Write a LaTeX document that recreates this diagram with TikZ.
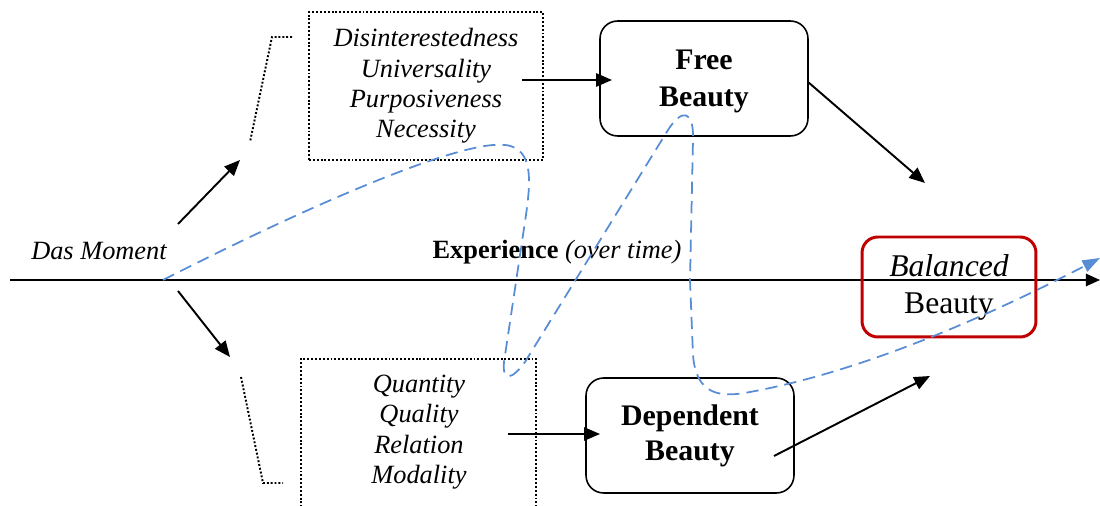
\documentclass[tikz,border=0pt]{standalone}
\usepackage{fontspec}
\setmainfont{Liberation Serif}
\usepackage{tikz}
\usetikzlibrary{arrows.meta,positioning,calc}

\definecolor{pathblue}{RGB}{88,141,214}
\definecolor{darkred}{RGB}{192,0,0}

\tikzset{
  dotbox/.style={draw, line width=1.1pt, dash pattern=on 1.1pt off 1.1pt},
  beautybox/.style={draw, line width=0.9pt, rounded corners=10pt, align=center,
    minimum width=4.16cm, minimum height=2.3cm,
    font=\fontsize{17}{21}\selectfont\bfseries},
  listtext/.style={align=center, font=\fontsize{15}{17.3}\selectfont\itshape},
  step arrow/.style={-{Triangle[length=9pt,width=7.5pt]}, line width=1.1pt},
}

\begin{document}
\begin{tikzpicture}[x=0.02cm, y=-0.02cm]
  \useasboundingbox (0,0) rectangle (1100,506);

  % time axis
  \coordinate (axisL) at (10,280);
  \coordinate (axisR) at (1100,280);
  \coordinate (moment) at (163,280);
  \draw[line width=1.1pt, -{Triangle[length=8pt,width=7pt]}] (axisL) -- (axisR);
  \node[font=\fontsize{15}{18}\selectfont\itshape] (dasmoment) at (99,251) {Das Moment};
  \node[font=\fontsize{15}{18}\selectfont] (experience) at (557,252)
    {\textbf{Experience} \textit{(over time)}};

  % upper branch
  \node[dotbox, listtext, minimum width=4.68cm, minimum height=2.96cm] (aspects) at (426,86)
    {Disinterestedness\\Universality\\Purposiveness\\Necessity};
  \draw[dotbox] (292,37) -- (272,37) -- (250,142);
  \node[beautybox, text depth=0pt] (free) at (704,78.5) {Free\\Beauty};

  % lower branch (box runs off the page)
  \draw[dotbox] (301,515) -- (301,359) -- (536,359) -- (536,515);
  \node[listtext] (categories) at (419,432) {Quantity\\Quality\\Relation\\Modality};
  \draw[dotbox] (241,377) -- (263,483) -- (283,483);
  \node[beautybox, font=\fontsize{17}{20}\selectfont\bfseries] (dependent) at (690,435.5)
    {Dependent\\Beauty};

  % result
  \node[draw=darkred, line width=1.7pt, rounded corners=9pt, align=center,
        minimum width=3.48cm, minimum height=2cm,
        font=\fontsize{18}{21}\selectfont] (balanced) at (949,287)
    {\textit{Balanced}\\Beauty};

  % arrows
  \coordinate (upS) at (178,224);   \coordinate (upE) at (240,160);
  \coordinate (dnS) at (178,291);   \coordinate (dnE) at (230,357);
  \coordinate (aspE) at (522,80);   \coordinate (freeW) at (612,80);
  \coordinate (catE) at (508,434);  \coordinate (depW) at (600,434);
  \coordinate (freeE) at (808,82);  \coordinate (balN) at (925,183);
  \coordinate (depE) at (774,456);  \coordinate (balS) at (930,376);
  \draw[step arrow] (upS) -- (upE);
  \draw[step arrow] (dnS) -- (dnE);
  \draw[step arrow] (aspE) -- (freeW);
  \draw[step arrow] (catE) -- (depW);
  \draw[step arrow] (freeE) -- (balN);
  \draw[step arrow] (depE) -- (balS);

  % path of judgement, swinging between the two sides
  \draw[pathblue, line width=1pt, dash pattern=on 7pt off 4pt,
        -{Triangle[length=10pt,width=7pt]}]
    (moment) .. controls (330,195) and (465,140) .. (505,145)
    .. controls (535,148) and (530,185) .. (526,215)
    -- (504,362)
    .. controls (502,382) and (512,380) .. (525,362)
    -- (668,130)
    .. controls (682,108) and (694,110) .. (693,140)
    -- (690,280) -- (693,355)
    .. controls (696,395) and (720,398) .. (750,392)
    .. controls (870,370) and (1000,310) .. (1100,258);
\end{tikzpicture}
\end{document}
